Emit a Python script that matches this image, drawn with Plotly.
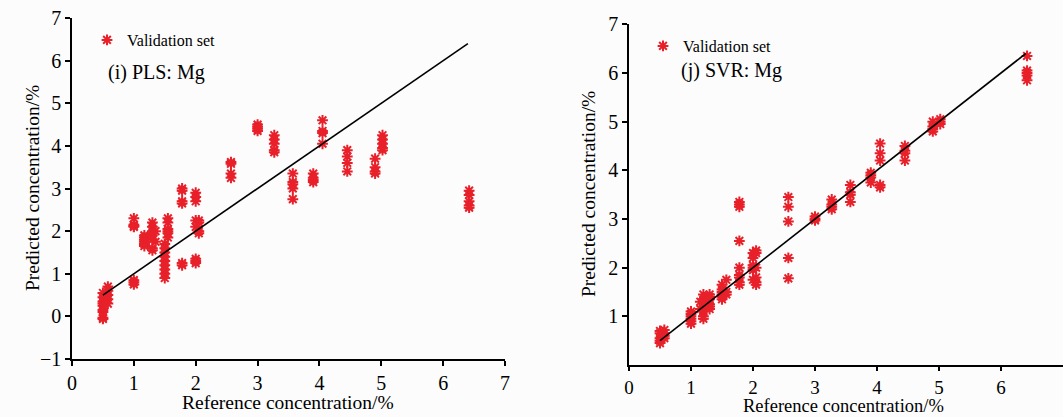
import plotly.graph_objects as go

# ---------------- data: PLS (left) ----------------
pls_x = ([0.5]*9 + [0.58]*5 + [1.0]*4 + [1.0]*3 + [1.17]*6 + [1.3]*8 + [1.35]*2 +
         [1.5]*9 + [1.55]*6 + [1.78]*4 + [1.78]*2 + [2.0]*3 + [2.0]*5 + [2.05]*4 +
         [2.57]*4 + [3.0]*4 + [3.27]*5 + [3.57]*5 + [3.9]*4 + [4.05]*4 + [4.45]*4 +
         [4.9]*4 + [5.02]*5 + [6.42]*5)
pls_y = ([0.55, 0.45, 0.35, 0.3, 0.25, 0.15, 0.1, -0.03, -0.06] +
         [0.7, 0.6, 0.5, 0.4, 0.3] +
         [2.3, 2.15, 2.1, 2.12] + [0.85, 0.8, 0.75] +
         [1.9, 1.85, 1.8, 1.75, 1.7, 1.65] +
         [2.2, 2.1, 2.0, 1.95, 1.9, 1.8, 1.6, 1.55] + [2.0, 1.75] +
         [1.7, 1.6, 1.5, 1.4, 1.3, 1.2, 1.1, 1.0, 0.9] +
         [2.3, 2.2, 2.05, 2.0, 1.95, 1.85] +
         [3.0, 2.95, 2.7, 2.65] + [1.25, 1.2] +
         [2.9, 2.8, 2.7] + [2.25, 2.1, 1.35, 1.3, 1.25] + [2.25, 2.2, 2.0, 1.95] +
         [3.62, 3.58, 3.35, 3.25] + [4.5, 4.45, 4.4, 4.35] +
         [4.25, 4.15, 4.05, 3.9, 3.85] + [3.35, 3.15, 3.1, 3.0, 2.75] +
         [3.35, 3.25, 3.2, 3.15] + [4.6, 4.35, 4.3, 4.05] +
         [3.9, 3.75, 3.6, 3.4] + [3.7, 3.5, 3.4, 3.35] +
         [4.25, 4.15, 4.05, 3.95, 3.9] + [2.95, 2.85, 2.7, 2.6, 2.55])

# ---------------- data: SVR (right) ----------------
svr_x = ([0.5]*5 + [0.57]*4 + [1.0]*6 + [1.2]*7 + [1.15]*2 + [1.3]*6 +
         [1.5]*6 + [1.57]*3 + [1.78]*9 + [2.0]*6 + [2.05]*6 + [2.57]*5 +
         [3.0]*3 + [3.27]*4 + [3.57]*4 + [3.9]*4 + [4.05]*5 + [4.45]*4 +
         [4.9]*4 + [5.02]*3 + [6.42]*5)
svr_y = ([0.7, 0.65, 0.55, 0.5, 0.45] + [0.72, 0.65, 0.6, 0.55] +
         [1.1, 1.05, 1.0, 0.95, 0.9, 0.85] +
         [1.45, 1.35, 1.3, 1.2, 1.1, 1.0, 0.95] + [1.3, 1.15] +
         [1.45, 1.4, 1.35, 1.25, 1.2, 1.15] +
         [1.65, 1.55, 1.5, 1.45, 1.4, 1.35] + [1.75, 1.5, 1.45] +
         [3.35, 3.3, 3.25, 2.55, 2.0, 1.85, 1.8, 1.7, 1.65] +
         [2.3, 2.2, 2.05, 2.0, 1.95, 1.75] + [2.35, 2.3, 2.0, 1.8, 1.7, 1.65] +
         [3.45, 3.25, 2.95, 2.2, 1.78] + [3.05, 3.0, 2.97] +
         [3.4, 3.3, 3.25, 3.2] + [3.7, 3.55, 3.5, 3.35] +
         [3.95, 3.9, 3.85, 3.75] + [4.55, 4.35, 4.2, 3.7, 3.65] +
         [4.5, 4.4, 4.35, 4.2] + [5.0, 4.9, 4.85, 4.8] + [5.05, 5.0, 4.95] +
         [6.35, 6.05, 6.0, 5.95, 5.85])

# 1:1 reference lines
line_x = [0.5, 6.4]
line_y = [0.5, 6.4]

ticks_left_x = [0, 1, 2, 3, 4, 5, 6, 7]
ticks_left_y = [-1, 0, 1, 2, 3, 4, 5, 6, 7]
ticks_right_x = [0, 1, 2, 3, 4, 5, 6]
ticks_right_y = [1, 2, 3, 4, 5, 6, 7]

RED = "#e8202a"
FONT = "Liberation Serif"

marker = dict(symbol="asterisk-open", size=9, color=RED,
              line=dict(color=RED, width=2))

fig = go.Figure()
fig.add_trace(go.Scatter(x=pls_x, y=pls_y, mode="markers", marker=marker,
                         name="Validation set", xaxis="x", yaxis="y",
                         legend="legend"))
fig.add_trace(go.Scatter(x=line_x, y=line_y, mode="lines",
                         line=dict(color="black", width=1.6),
                         showlegend=False, xaxis="x", yaxis="y"))
fig.add_trace(go.Scatter(x=svr_x, y=svr_y, mode="markers", marker=marker,
                         name="Validation set", xaxis="x2", yaxis="y2",
                         legend="legend2"))
fig.add_trace(go.Scatter(x=line_x, y=line_y, mode="lines",
                         line=dict(color="black", width=1.6),
                         showlegend=False, xaxis="x2", yaxis="y2"))

axis_common = dict(showline=True, linecolor="black", linewidth=1.5,
                   ticks="outside", ticklen=5, tickcolor="black", tickwidth=1.5,
                   showgrid=False, zeroline=False, automargin=False,
                   tickfont=dict(family=FONT, size=20, color="black"))

W, H = 1063, 417
fig.update_layout(
    width=W, height=H,
    margin=dict(l=0, r=0, t=0, b=0, pad=0, autoexpand=False),
    paper_bgcolor="#fcfcfc", plot_bgcolor="#fcfcfc",
    font=dict(family=FONT, color="black"),
    xaxis=dict(axis_common, domain=[72/W, 505/W], range=[0, 7],
               tickvals=ticks_left_x, anchor="y"),
    yaxis=dict(axis_common, domain=[58/H, 399/H], range=[-1, 7],
               tickvals=ticks_left_y, anchor="x"),
    xaxis2=dict(axis_common, domain=[629/W, 1.0], range=[0, 7],
                tickvals=ticks_right_x, anchor="y2", ticklen=4,
                tickfont=dict(family=FONT, size=19, color="black")),
    yaxis2=dict(axis_common, domain=[52/H, 392.7/H], range=[0, 7],
                tickvals=ticks_right_y, anchor="x2"),
    legend=dict(x=87/W, y=1 - 40/H, xanchor="left", yanchor="middle",
                bgcolor="rgba(0,0,0,0)", font=dict(family=FONT, size=16),
                itemwidth=30),
    legend2=dict(x=643/W, y=1 - 46/H, xanchor="left", yanchor="middle",
                 bgcolor="rgba(0,0,0,0)", font=dict(family=FONT, size=16),
                 itemwidth=30),
    annotations=[
        dict(text="(i) PLS: Mg", x=106/W, y=1 - 72/H, xref="paper", yref="paper",
             xanchor="left", yanchor="middle", showarrow=False,
             font=dict(family=FONT, size=20)),
        dict(text="(j) SVR: Mg", x=679/W, y=1 - 70/H, xref="paper", yref="paper",
             xanchor="left", yanchor="middle", showarrow=False,
             font=dict(family=FONT, size=20)),
        dict(text="Reference concentration/%", x=288/W, y=1 - 402/H,
             xref="paper", yref="paper", xanchor="center", yanchor="middle",
             showarrow=False, font=dict(family=FONT, size=19.5)),
        dict(text="Reference concentration/%", x=843/W, y=1 - 406/H,
             xref="paper", yref="paper", xanchor="center", yanchor="middle",
             showarrow=False, font=dict(family=FONT, size=18.5)),
        dict(text="Predicted concentration/%", x=32/W, y=1 - 188/H,
             xref="paper", yref="paper", xanchor="center", yanchor="middle",
             textangle=-90, showarrow=False, font=dict(family=FONT, size=19.5)),
        dict(text="Predicted concentration/%", x=588/W, y=1 - 194/H,
             xref="paper", yref="paper", xanchor="center", yanchor="middle",
             textangle=-90, showarrow=False, font=dict(family=FONT, size=19.5)),
    ],
)

fig.write_html(
    "out.html",
    config={"displayModeBar": False},
    post_script="document.body.style.margin='0px';"
                "document.body.style.overflow='hidden';",
)
